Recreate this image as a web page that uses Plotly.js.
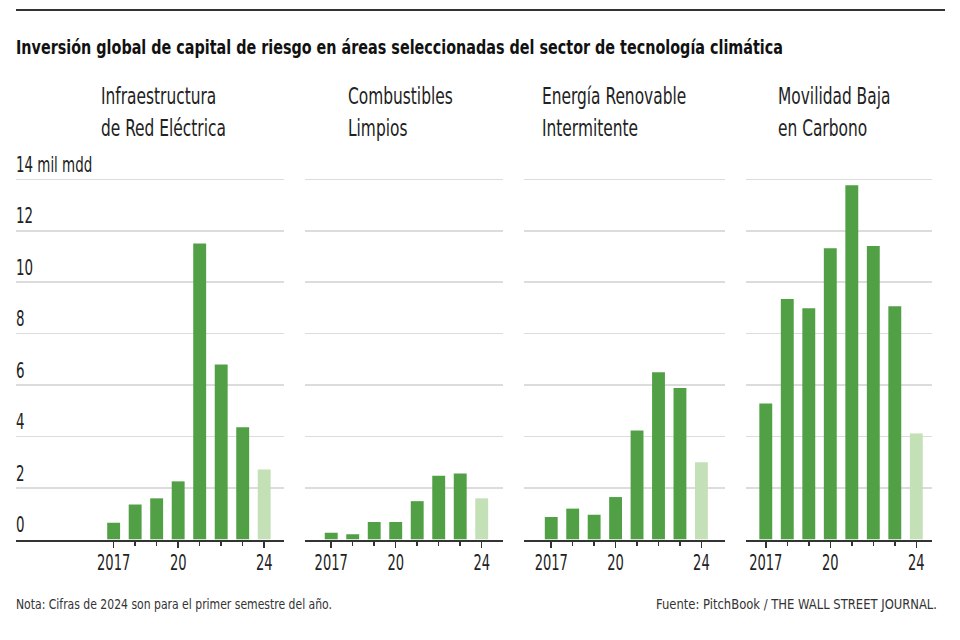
<!DOCTYPE html>
<html>
<head>
<meta charset="utf-8">
<script src="https://cdn.plot.ly/plotly-3.0.1.min.js"></script>
<style>
  html, body { margin: 0; padding: 0; background: #fff; }
  #chart { width: 960px; height: 640px; }
</style>
</head>
<body>
<div id="chart"></div>
<script>
// ---- data ----
const years = [2017, 2018, 2019, 2020, 2021, 2022, 2023, 2024];
const partialYear = 2024;
const infraestructura = [0.65, 1.36, 1.6, 2.26, 11.5, 6.8, 4.36, 2.72];
const combustibles   = [0.26, 0.2, 0.68, 0.68, 1.49, 2.48, 2.57, 1.6];
const energia        = [0.87, 1.2, 0.96, 1.65, 4.24, 6.5, 5.89, 3.0];
const movilidad      = [5.29, 9.35, 8.99, 11.32, 13.77, 11.41, 9.07, 4.12];
const panelTitles = [
  ["Infraestructura", "de Red Eléctrica"],
  ["Combustibles", "Limpios"],
  ["Energía Renovable", "Intermitente"],
  ["Movilidad Baja", "en Carbono"]
];
const yTickVals = [0, 2, 4, 6, 8, 10, 12, 14];
const yTickText = ["0", "2", "4", "6", "8", "10", "12", "14 mil mdd"];
const xTickVals = [2017, 2020, 2024];
const xTickText = ["2017", "20", "24"];
const chartTitle = "Inversión global de capital de riesgo en áreas seleccionadas del sector de tecnología climática";
const nota = "Nota: Cifras de 2024 son para el primer semestre del año.";
const fuente = "Fuente: PitchBook / THE WALL STREET JOURNAL.";

// ---- layout / style ----
const W = 960, H = 640;
const FONT = '"DejaVu Sans Condensed", "DejaVu Sans", sans-serif';
const DARK = '#51a045';
const LIGHT = '#c3e0b6';
const TEXT = '#222222';
const series = [infraestructura, combustibles, energia, movilidad];
const domainsPx = [[16, 284], [305, 503], [524, 725], [746, 932]];
const ranges = [[2012.46, 2024.92], [2015.78, 2024.99], [2015.73, 2025.10], [2016.08, 2024.73]];
const titleX = [101, 348, 541.5, 778];
const yMax = 14.06;
const yBottom = 539.5, yTopPx = 179.3 - 0.06 * 25.7;
const yDomain = [(H - yBottom) / H, (H - yTopPx) / H];
const px = v => v / W;
const py = v => 1 - v / H;

const colors = years.map(y => y === partialYear ? LIGHT : DARK);

const traces = series.map((vals, i) => ({
  type: 'bar',
  x: years,
  y: vals,
  xaxis: i === 0 ? 'x' : 'x' + (i + 1),
  yaxis: i === 0 ? 'y' : 'y' + (i + 1),
  width: 0.6,
  marker: { color: colors, line: { width: 0 } },
  hoverinfo: 'x+y',
  showlegend: false
}));

const layout = {
  width: W, height: H,
  margin: { l: 0, r: 0, t: 0, b: 0 },
  paper_bgcolor: '#fff',
  plot_bgcolor: 'rgba(0,0,0,0)',
  font: { family: FONT, color: TEXT, size: 19 },
  showlegend: false,
  annotations: [],
  shapes: [{
    type: 'line', xref: 'paper', yref: 'paper',
    x0: px(16), x1: px(945), y0: py(10), y1: py(10),
    line: { color: '#333', width: 2 }
  }]
};

const condenseList = [];

function addText(ann, k, target) {
  ann.borderpad = 0;
  ann.borderwidth = 0;
  ann.xanchor = 'left';
  ann.align = 'left';
  ann.showarrow = false;
  layout.annotations.push(ann);
  condenseList.push({ k: k, target: target });
}

series.forEach((_, i) => {
  const xk = i === 0 ? 'xaxis' : 'xaxis' + (i + 1);
  const yk = i === 0 ? 'yaxis' : 'yaxis' + (i + 1);
  const yref = i === 0 ? 'y' : 'y' + (i + 1);
  const xref = i === 0 ? 'x' : 'x' + (i + 1);
  layout[xk] = {
    domain: [px(domainsPx[i][0]), px(domainsPx[i][1])],
    range: ranges[i],
    anchor: yref,
    showgrid: false, zeroline: false,
    showline: true, linecolor: '#333', linewidth: 2,
    ticks: 'outside', ticklen: 6, tickwidth: 1.5, tickcolor: '#333',
    tickmode: 'array', tickvals: xTickVals, ticktext: xTickText,
    ticklabelstandoff: -4,
    minor: { tickmode: 'array', tickvals: years, ticks: 'outside', ticklen: 4, tickwidth: 1.5, tickcolor: '#333', showgrid: false },
    tickfont: { family: FONT, size: 22, color: TEXT },
    fixedrange: true
  };
  layout[yk] = {
    domain: yDomain,
    range: [0, yMax],
    anchor: xref,
    showgrid: true, gridcolor: '#dcdcdc', gridwidth: 1.5,
    zeroline: false, showline: false,
    tickmode: 'array', tickvals: yTickVals,
    showticklabels: false,
    ticks: '',
    fixedrange: true
  };
  panelTitles[i].forEach((line, j) => {
    addText({
      xref: 'paper', yref: 'paper',
      x: px(titleX[i]), y: py(96 + j * 31.5),
      yanchor: 'middle',
      text: line,
      font: { family: FONT, size: 23, color: TEXT }
    }, 0.745, null);
  });
});

// y-axis labels sit above their gridlines, on the first panel's scale
yTickVals.forEach((v, j) => {
  addText({
    xref: 'paper', yref: 'y',
    x: px(16), y: v, yshift: 14.5,
    yanchor: 'middle',
    text: yTickText[j],
    font: { family: FONT, size: 21, color: TEXT }
  }, 0.71, null);
});

addText({
  xref: 'paper', yref: 'paper', x: px(16), y: py(47),
  yanchor: 'middle', text: chartTitle,
  font: { family: FONT, size: 19.5, color: '#111', weight: 'bold' }
}, null, 767);
addText({
  xref: 'paper', yref: 'paper', x: px(16), y: py(604),
  yanchor: 'middle', text: nota,
  font: { family: FONT, size: 14.5, color: '#333' }
}, null, 316);
addText({
  xref: 'paper', yref: 'paper', x: px(937 - 281), y: py(604),
  yanchor: 'middle', text: fuente,
  font: { family: FONT, size: 13.8, color: '#333' }
}, null, 281);

function condense(el, k, target) {
  const w = el.getComputedTextLength();
  const t = target != null ? target : w * k;
  el.setAttribute('textLength', t.toFixed(2));
  el.setAttribute('lengthAdjust', 'spacingAndGlyphs');
  return t;
}

Plotly.newPlot('chart', traces, layout, { displayModeBar: false, staticPlot: true }).then(gd => {
  gd.querySelectorAll('.annotation').forEach((a, idx) => {
    const info = condenseList[idx];
    const t = a.querySelector('text.annotation-text');
    if (!t || !info) return;
    const newW = condense(t, info.k, info.target);
    const bg = a.querySelector('rect.bg');
    if (bg) bg.setAttribute('width', newW.toFixed(2));
  });
  gd.querySelectorAll('g.xtick text, g.x2tick text, g.x3tick text, g.x4tick text').forEach(t => condense(t, 0.66, null));
});
</script>
</body>
</html>
